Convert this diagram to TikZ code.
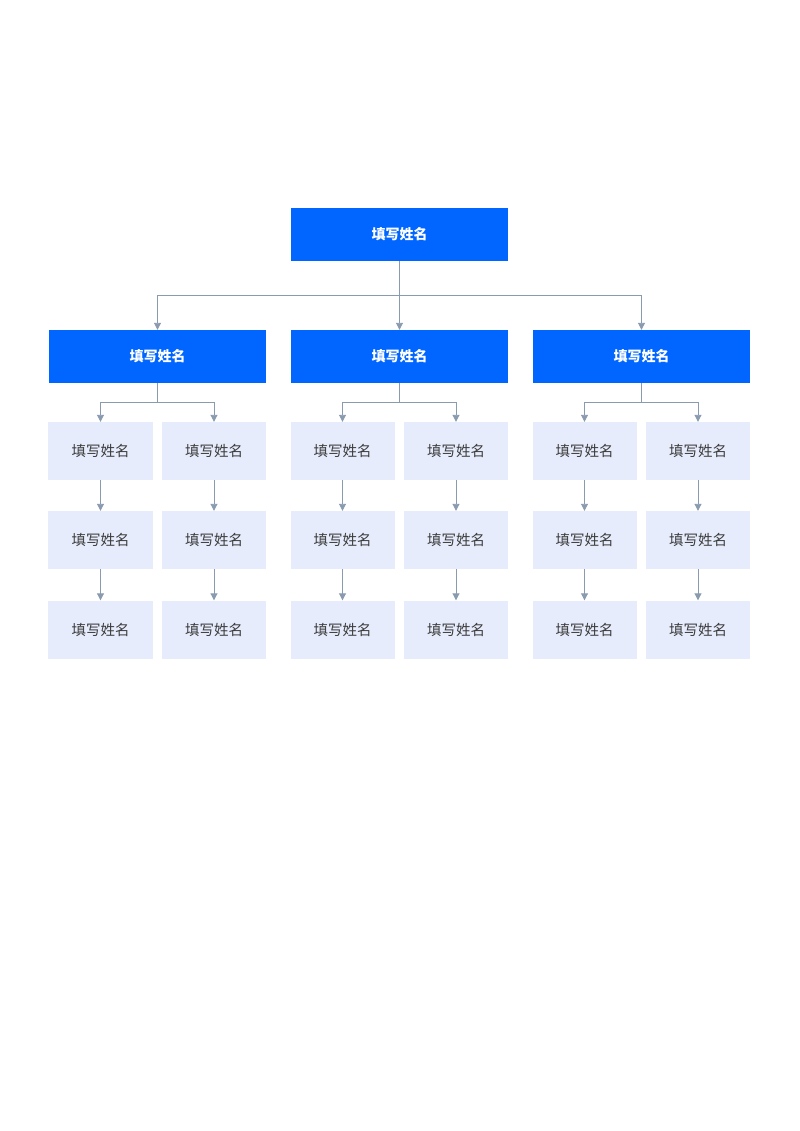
\documentclass[tikz,border=0pt]{standalone}
\usepackage{fontspec}
\newfontfamily\cjk{Noto Sans CJK SC}
\usetikzlibrary{arrows.meta}
\definecolor{mainblue}{RGB}{0,102,255}
\definecolor{lightbox}{RGB}{230,236,252}
\definecolor{linec}{RGB}{138,155,176}
\definecolor{txt}{RGB}{60,60,60}
\begin{document}
\begin{tikzpicture}[x=1bp,y=-1bp,
  bluebox/.style={fill=mainblue,draw=none,minimum width=217bp,minimum height=53bp,inner sep=0pt,
    font=\cjk\bfseries\fontsize{14bp}{16bp}\selectfont,text=white},
  leafbox/.style={fill=lightbox,draw=none,minimum width=104bp,minimum height=58bp,inner sep=0pt,
    font=\cjk\fontsize{14.5bp}{17bp}\selectfont,text=txt},
  conn/.style={draw=linec,line width=0.9bp,-{Triangle[width=7bp,length=7bp]}},
  plain/.style={draw=linec,line width=0.9bp}]
\useasboundingbox[fill=white] (0,0) rectangle (800,1131);
\node[bluebox] (top) at (399.5,234.5) {填写姓名};
\node[bluebox] (m1) at (157.5,356.5) {填写姓名};
\node[bluebox] (m2) at (399.5,356.5) {填写姓名};
\node[bluebox] (m3) at (641.5,356.5) {填写姓名};
\coordinate (hb) at (399.5,295.5);
\draw[plain] (top.south) -- (hb);
\draw[conn] (hb) -| (m1.north);
\draw[conn] (hb) -- (m2.north);
\draw[conn] (hb) -| (m3.north);
\foreach \i/\cx in {1/157.5,2/399.5,3/641.5}{
  \pgfmathsetmacro{\la}{\cx-57}
  \pgfmathsetmacro{\lb}{\cx+56.5}
  \foreach \j/\x in {a/\la,b/\lb}{
    \node[leafbox] (l\i\j1) at (\x,451) {填写姓名};
    \node[leafbox] (l\i\j2) at (\x,540) {填写姓名};
    \node[leafbox] (l\i\j3) at (\x,629.5) {填写姓名};
    \draw[conn] (l\i\j1.south) -- (l\i\j2.north);
    \draw[conn] (l\i\j2.south) -- (l\i\j3.north);
  }
  \coordinate (b\i) at (\cx,402.5);
  \draw[plain] (m\i.south) -- (b\i);
  \draw[conn] (b\i) -| (l\i a1.north);
  \draw[conn] (b\i) -| (l\i b1.north);
}
\end{tikzpicture}
\end{document}
